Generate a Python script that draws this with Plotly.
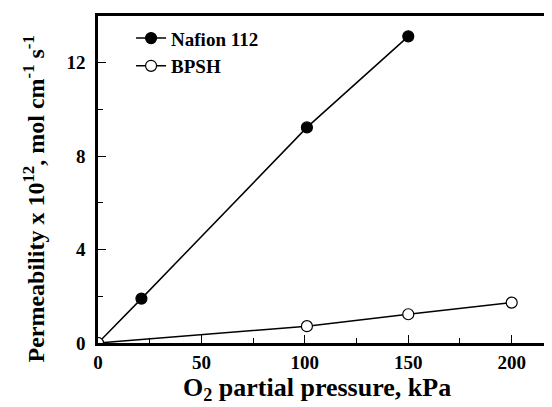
import plotly.graph_objects as go

nafion_x = [0, 21, 101, 150]
nafion_y = [0, 1.9, 9.23, 13.13]
bpsh_x = [0, 101, 150, 200]
bpsh_y = [0, 0.72, 1.23, 1.73]

x_ticks = [0, 50, 100, 150, 200]
y_ticks = [0, 4, 8, 12]

x_title = "<b>O<sub>2</sub> partial pressure, kPa</b>"
y_title = "<b>Permeability x 10<sup>12</sup>, mol cm<sup>-1</sup> s<sup>-1</sup></b>"

font_family = "Liberation Serif"

fig = go.Figure()
fig.add_trace(go.Scatter(
    x=nafion_x, y=nafion_y, mode="lines+markers", name="<b>Nafion 112</b>",
    line=dict(color="black", width=1.5),
    marker=dict(symbol="circle", size=11, color="black", line=dict(color="black", width=1.2)),
))
fig.add_trace(go.Scatter(
    x=bpsh_x, y=bpsh_y, mode="lines+markers", name="<b>BPSH</b>",
    line=dict(color="black", width=1.5),
    marker=dict(symbol="circle", size=11, color="white", line=dict(color="black", width=1.2)),
))

fig.update_layout(
    width=544, height=399,
    margin=dict(l=90, r=1, t=8, b=64),
    paper_bgcolor="white", plot_bgcolor="white",
    font=dict(family=font_family, color="black", size=18),
    showlegend=True,
    legend=dict(x=0.073, y=0.99, xanchor="left", yanchor="top",
                font=dict(family=font_family, size=19, color="black"),
                bgcolor="rgba(0,0,0,0)", tracegroupgap=0, itemwidth=30),
    xaxis=dict(
        range=[0, 219], tickvals=x_ticks, ticktext=[f"<b>{v}</b>" for v in x_ticks],
        ticks="inside", ticklen=8, tickwidth=1, tickcolor="black",
        minor=dict(dtick=25, ticks="inside", ticklen=5, tickwidth=1, tickcolor="black", showgrid=False),
        showline=True, linecolor="black", linewidth=2.5, mirror=True,
        showgrid=False, zeroline=False, automargin=False,
        tickfont=dict(family=font_family, size=19, color="black"),
    ),
    yaxis=dict(
        range=[0, 14], tickvals=y_ticks, ticktext=[f"<b>{v}</b>" for v in y_ticks],
        ticks="inside", ticklen=8, tickwidth=1, tickcolor="black",
        minor=dict(dtick=2, ticks="inside", ticklen=5, tickwidth=1, tickcolor="black", showgrid=False),
        showline=True, linecolor="black", linewidth=2.5, mirror=True,
        showgrid=False, zeroline=False, automargin=False,
        tickfont=dict(family=font_family, size=19, color="black"),
        ticklabelstandoff=6,
    ),
    annotations=[
        dict(text=x_title, xref="paper", yref="paper", x=0.5, y=0,
             xanchor="center", yanchor="middle", xshift=-8, yshift=-46,
             showarrow=False, font=dict(family=font_family, size=26, color="black")),
        dict(text=y_title, xref="paper", yref="paper", x=0, y=0.5,
             xanchor="center", yanchor="middle", xshift=-65, yshift=-20, textangle=-90,
             showarrow=False, font=dict(family=font_family, size=24, color="black")),
    ],
)

fig.write_html("out.html")
